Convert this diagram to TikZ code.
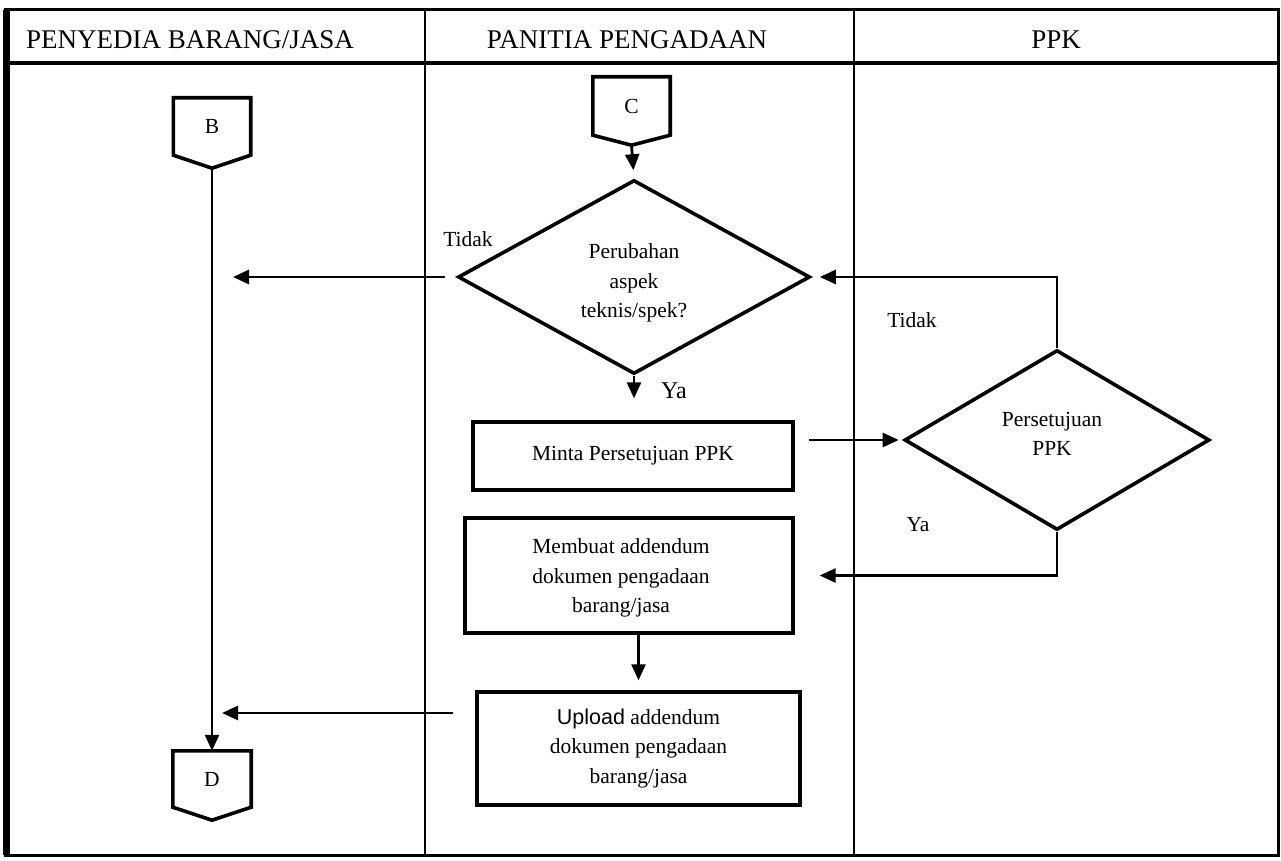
\documentclass[tikz,border=0pt]{standalone}
\usepackage{fontspec}
\setmainfont{Liberation Serif}
\newfontfamily\uplfont{Liberation Sans}
\usetikzlibrary{shapes.geometric,arrows.meta,calc}
\begin{document}
\begin{tikzpicture}[x=1pt,y=-1pt,
  every node/.style={font=\fontsize{21.5}{29.5}\selectfont},
  proc/.style={draw,line width=3.4pt,rectangle,inner sep=0pt,align=center},
  decide/.style={draw,line width=3.6pt,diamond,inner sep=0pt,aspect=1.8},
  txt/.style={inner sep=0pt,align=center},
  conn/.style={inner sep=0pt},
  offpage/.style={line width=3.6pt,line join=miter},
  flow/.style={line width=2.8pt,-{Triangle[length=16pt,width=14pt]}},
  lbl/.style={inner sep=0pt},
  head/.style={inner sep=0pt,font=\fontsize{27}{30}\selectfont},
  frame/.style={line width=3pt},
  lane/.style={line width=1.6pt},
  ]
\useasboundingbox (0,0) rectangle (1281,861);
\fill[white] (0,0) rectangle (1281,861);

% swimlane table
\draw[frame] (5,10) rectangle (1278,855);
\draw[line width=7pt] (6,10) -- (6,855);
\draw[line width=3.5pt] (5,63) -- (1278,63);
\draw[lane] (425,10) -- (425,855);
\draw[lane] (854,10) -- (854,855);
\node[head] (h1) at (190,40) {PENYEDIA BARANG/JASA};
\node[head] (h2) at (627,40) {PANITIA PENGADAAN};
\node[head] (h3) at (1056,40) {PPK};

% off-page connectors
\node[conn, minimum width=77pt, minimum height=57pt] (B) at (212,126.5) {B};
\coordinate (Btip) at ($(B.south)+(0,13)$);
\draw[offpage] (B.north west) -- (B.north east) -- (B.south east) -- (Btip) -- (B.south west) -- cycle;

\node[conn, minimum width=77pt, minimum height=58pt] (C) at (631.5,106) {C};
\coordinate (Ctip) at ($(C.south)+(0,10)$);
\draw[offpage] (C.north west) -- (C.north east) -- (C.south east) -- (Ctip) -- (C.south west) -- cycle;

\node[conn, minimum width=78pt, minimum height=56pt] (D) at (212,779) {D};
\coordinate (Dtip) at ($(D.south)+(0,13)$);
\draw[offpage] (D.north west) -- (D.north east) -- (D.south east) -- (Dtip) -- (D.south west) -- cycle;

% decisions and processes
\node[decide, minimum width=352pt, minimum height=194pt] (D1) at (634,277) {};
\node[txt] (D1text) at (634,283) {Perubahan\\aspek\\teknis/spek?};
\node[decide, minimum width=305pt, minimum height=180pt] (D2) at (1057,440) {};
\node[txt] (D2text) at (1052,434) {Persetujuan\\PPK};
\node[proc, minimum width=320pt, minimum height=68pt] (Minta) at (633,456)
  {Minta Persetujuan PPK};
\node[proc, minimum width=328pt, minimum height=115pt] (Membuat) at (629,575.5) {};
\node[txt] (MembuatText) at (621,578) {Membuat addendum\\dokumen pengadaan\\barang/jasa};
\node[proc, minimum width=323pt, minimum height=113pt] (Upload) at (638.5,748.5)
  {{\uplfont Upload} addendum\\dokumen pengadaan\\barang/jasa};

% free ends of the arrows into the supplier lane
\coordinate (tidakEnd) at (233,277);
\coordinate (upStart) at (453,713);
\coordinate (upEnd) at (222,713);

% connectors
\draw[flow, line width=2.4pt] (Btip) -- (D.north);
\draw[flow, shorten >=8pt] (Ctip) -- (D1.north);
\draw[flow, shorten <=11pt] (D1.west) -- (tidakEnd);
\draw[flow, shorten >=22pt] (D1.south) -- (D1.south |- Minta.north);
\draw[flow, shorten <=14pt, shorten >=4pt] (Minta.east |- D2.west) -- (D2.west);
\draw[flow, shorten >=8pt] (D2.north) |- (D1.east);
\draw[flow, shorten >=25pt] (D2.south) |- (Membuat.east);
\draw[flow, shorten >=10pt] (Upload.north |- Membuat.south) -- (Upload.north);
\draw[flow] (upStart) -- (upEnd);

% branch labels
\node[lbl] (t1) at (468,239) {Tidak};
\node[lbl, font=\fontsize{24}{28}\selectfont] (y1) at (674,391) {Ya};
\node[lbl] (t2) at (912,320) {Tidak};
\node[lbl] (y2) at (918,525) {Ya};
\end{tikzpicture}
\end{document}
